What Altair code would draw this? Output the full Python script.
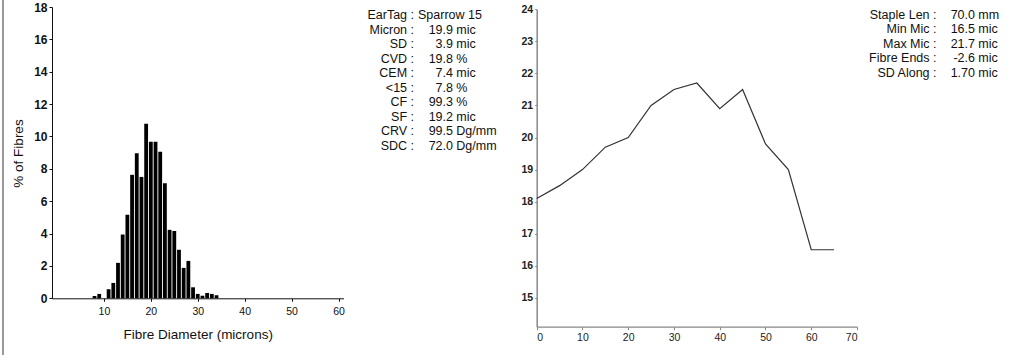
import altair as alt
import pandas as pd

# ---- data ----
diameters = list(range(8, 35))
pct_fibres = [0.14, 0.27, 0.0, 0.56, 0.95, 2.19, 3.94, 5.17, 7.63, 8.97, 7.5, 10.78,
              9.67, 9.67, 9.05, 7.11, 4.23, 4.16, 3.0, 1.88, 2.31, 0.68, 0.27, 0.16,
              0.33, 0.27, 0.19]

length_pos = [0, 5, 10, 15, 20, 25, 30, 35, 40, 45, 50, 55, 60, 65]
micron_along = [18.1, 18.5, 19.0, 19.7, 20.0, 21.0, 21.5, 21.7, 20.9, 21.5, 19.8, 19.0, 16.5, 16.5]

left_labels = ["EarTag :", "Micron :", "SD :", "CVD :", "CEM :", "<15 :", "CF :", "SF :", "CRV :", "SDC :"]
left_nums = ["", "19.9", "3.9", "19.8", "7.4", "7.8", "99.3", "19.2", "99.5", "72.0"]
left_units = ["", "mic", "mic", "%", "mic", "%", "%", "mic", "Dg/mm", "Dg/mm"]
eartag_value = ["Sparrow 15"]

right_labels = ["Staple Len :", "Min Mic :", "Max Mic :", "Fibre Ends :", "SD Along :"]
right_nums = ["70.0", "16.5", "21.7", "-2.6", "1.70"]
right_units = ["mm", "mic", "mic", "mic", "mic"]

FONT = "Liberation Sans"

hist_df = pd.DataFrame({"d": diameters, "p": pct_fibres})
line_df = pd.DataFrame({"pos": length_pos, "mic": micron_along})
left_df = pd.DataFrame({"row": list(range(len(left_labels))), "label": left_labels,
                        "num": left_nums, "unit": left_units})
eartag_df = pd.DataFrame({"row": [0], "v": eartag_value})
right_df = pd.DataFrame({"row": list(range(len(right_labels))), "label": right_labels,
                         "num": right_nums, "unit": right_units})

H = 355

# ---- histogram ----
bars = alt.Chart(hist_df).mark_bar(color="black", size=3.8).encode(
    x=alt.X("d:Q", scale=alt.Scale(domain=[0, 60], range=[52, 343.5], nice=False),
            axis=alt.Axis(orient="bottom", offset=298.3 - H, values=[10, 20, 30, 40, 50, 60],
                          title="Fibre Diameter (microns)", titleX=197.75, titleY=36.5,
                          titleBaseline="middle", titleFontSize=13.5, titleFontWeight="normal",
                          titleFont=FONT, titleColor="#111",
                          labelFont=FONT, labelFontSize=10.5, labelColor="#111",
                          labelPadding=5, tickSize=3, domainColor="#111", tickColor="#111",
                          grid=False)),
    y=alt.Y("p:Q", scale=alt.Scale(domain=[0, 18], range=[298.3, 7], nice=False),
            axis=alt.Axis(orient="left", offset=-52, values=list(range(0, 19, 2)),
                          title="% of Fibres", titleX=-34, titleY=153, titleAngle=270,
                          titleBaseline="middle", titleFontSize=13.5, titleFontWeight="normal",
                          titleFont=FONT, titleColor="#111",
                          labelFont=FONT, labelFontSize=12, labelFontWeight="bold",
                          labelColor="#111", labelPadding=2, tickSize=3,
                          domainColor="#111", tickColor="#111", grid=False)),
)

# ---- micron along staple ----
line = alt.Chart(line_df).mark_line(color="#333", strokeWidth=1.2).encode(
    x=alt.X("pos:Q", scale=alt.Scale(domain=[0, 70], range=[536.7, 857], nice=False),
            axis=alt.Axis(orient="bottom", offset=326.7 - H, values=list(range(0, 71, 10)),
                          title=None, labelFont=FONT, labelFontSize=10.5, labelColor="#222",
                          labelPadding=3, tickSize=3, domainColor="#888", tickColor="#888",
                          domainWidth=1.3, grid=False)),
    y=alt.Y("mic:Q", scale=alt.Scale(domain=[14.1, 24], range=[326.7, 9.3], nice=False, zero=False),
            axis=alt.Axis(orient="left", offset=-536.7, values=list(range(15, 25)),
                          title=None, labelFont=FONT, labelFontSize=10.5, labelFontWeight="bold",
                          labelColor="#222", labelPadding=2, tickSize=2, domainColor="#888",
                          tickColor="#888", domainWidth=1.5, grid=False)),
)

def text_layer(df, field, xpos, align, nrows, y0, y1):
    return alt.Chart(df).mark_text(align=align, baseline="middle", font=FONT,
                                   fontSize=12.5, color="#111").encode(
        x=alt.value(xpos),
        y=alt.Y("row:Q", scale=alt.Scale(domain=[0, nrows - 1], range=[y0, y1], nice=False, zero=False),
                axis=None),
        text=f"{field}:N",
    )

tl1 = text_layer(left_df, "label", 414, "right", 10, 15, 146)
tl2 = text_layer(left_df, "num", 453, "right", 10, 15, 146)
tl3 = text_layer(left_df, "unit", 456.3, "left", 10, 15, 146)
tl4 = alt.Chart(eartag_df).mark_text(align="left", baseline="middle", font=FONT,
                                     fontSize=12.5, color="#111").encode(
    x=alt.value(418), y=alt.value(15), text="v:N")

tr1 = text_layer(right_df, "label", 936.5, "right", 5, 15, 72.7)
tr2 = text_layer(right_df, "num", 975, "right", 5, 15, 72.7)
tr3 = text_layer(right_df, "unit", 978.3, "left", 5, 15, 72.7)

border = alt.Chart(pd.DataFrame({"a": [0]})).mark_rule(color="#777", strokeWidth=1.5).encode(
    x=alt.value(3), y=alt.value(0), y2=alt.value(H))

chart = alt.layer(border, bars, line, tl1, tl2, tl3, tl4, tr1, tr2, tr3).resolve_scale(
    x="independent", y="independent").resolve_axis(x="independent", y="independent").properties(
    width=1024, height=H, autosize=alt.AutoSizeParams(type="none"), padding=0,
    background="white").configure_view(stroke=None)

chart.save("out.html", embed_options={"renderer": "svg", "actions": False})
